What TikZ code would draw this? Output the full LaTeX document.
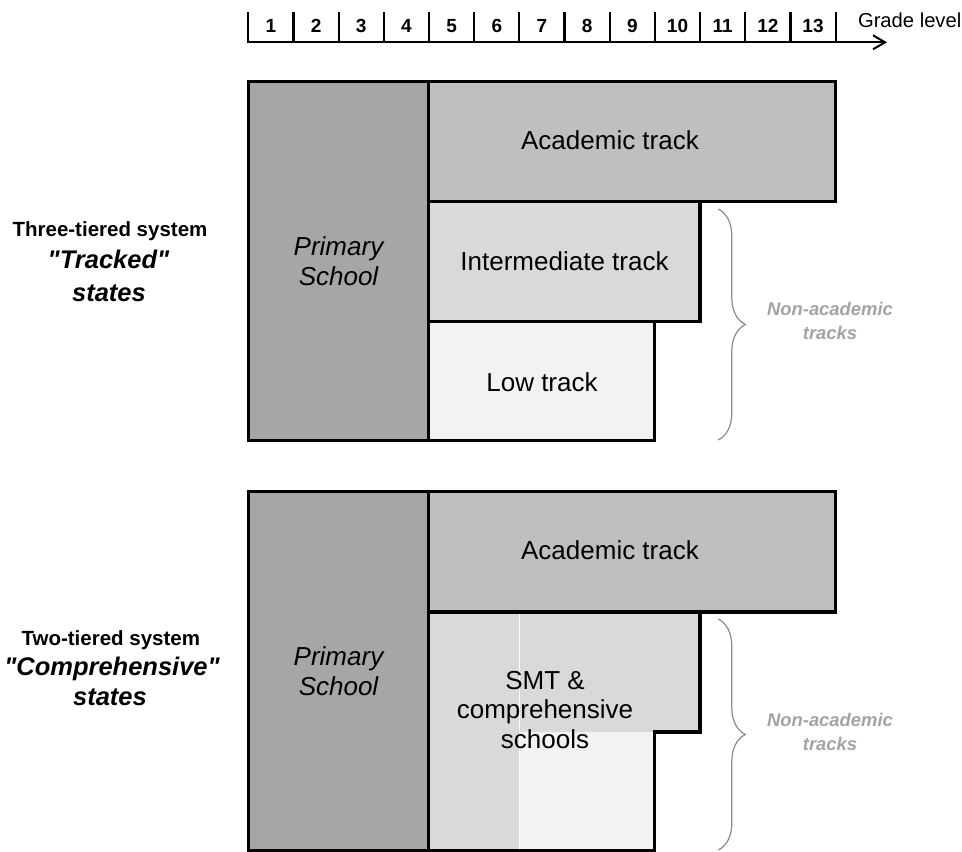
\documentclass[tikz,border=0pt]{standalone}
\usepackage{fontspec}
\setmainfont{Liberation Sans}[Ligatures=TeXOff]
\usetikzlibrary{arrows.meta,decorations.pathreplacing}
\definecolor{primgray}{HTML}{A6A6A6}
\definecolor{acadgray}{HTML}{BFBFBF}
\definecolor{midgray}{HTML}{D9D9D9}
\definecolor{lowgray}{HTML}{F2F2F2}
\definecolor{bracegray}{HTML}{8A8A8A}
\definecolor{notegray}{HTML}{A3A3A3}
\newcommand{\sq}{\symbol{34}}
\begin{document}
\begin{tikzpicture}[x=1pt, y=-1pt,
    box/.style={draw=black, line width=3.5pt},
    boxlabel/.style={font=\fontsize{26}{30}\selectfont, align=center},
    tierlabel/.style={font=\bfseries\fontsize{20.5}{24}\selectfont, anchor=base},
    statelabel/.style={font=\bfseries\itshape\fontsize{25.5}{30}\selectfont, anchor=base},
    notelabel/.style={font=\bfseries\itshape\fontsize{18.4}{24}\selectfont, text=notegray, align=center},
    nonacad/.style={decorate, decoration={brace, amplitude=27pt}, draw=bracegray, line width=1.2pt}]
    \useasboundingbox (0,0) rectangle (962,852);
    \foreach \g in {0,...,13}{
        \pgfmathsetmacro{\tx}{248.3+45.18*\g}
        \draw[line width=2.2pt] (\tx,12) -- (\tx,42.3);
    }
    \foreach \g in {1,...,13}{
        \pgfmathsetmacro{\cx}{248.3+45.18*(\g-0.5)}
        \node[font=\bfseries\fontsize{19}{20}\selectfont] (grade\g) at (\cx,26.3) {\g};
    }
    \coordinate (axis start) at (247.3,42.3);
    \coordinate (axis end) at (887,42.3);
    \draw[line width=2pt, -{Straight Barb[length=12pt, width=14pt]}] (axis start) -- (axis end);
    \node[font=\fontsize{20.2}{24}\selectfont, anchor=base west] (grade level) at (854.5,27) {Grade level};

    \draw[box, fill=primgray] (248.3,81.5) rectangle (428.7,440.7);
    \draw[box, fill=acadgray] (428.7,81.5) rectangle (835.3,201.5);
    \draw[box, fill=midgray] (428.7,201.5) rectangle (699.8,321.5);
    \draw[box, fill=lowgray] (428.7,321.5) rectangle (654.6,440.7);
    \node[boxlabel, font=\itshape\fontsize{26}{30}\selectfont] (primary top) at (338.5,261) {Primary\\School};
    \node[boxlabel] (academic top) at (610,140.5) {Academic track};
    \node[boxlabel] (intermediate) at (564.5,261) {Intermediate track};
    \node[boxlabel] (low) at (542,382) {Low track};

    \draw[box, fill=primgray] (248.3,491.7) rectangle (428.7,850.5);
    \draw[box, fill=acadgray] (428.7,491.7) rectangle (835.3,612);
    \fill[midgray] (428.7,612) rectangle (699.8,732);
    \fill[midgray] (428.7,732) rectangle (519.4,850.5);
    \fill[lowgray] (519.4,732) rectangle (654.6,850.5);
    \draw[white, line width=1.5pt] (519.4,612) -- (519.4,850.5);
    \draw[box] (428.7,612) -- (699.8,612) -- (699.8,732) -- (654.6,732) -- (654.6,850.5) -- (428.7,850.5) -- cycle;
    \node[boxlabel, font=\itshape\fontsize{26}{30}\selectfont] (primary bottom) at (338.5,671) {Primary\\School};
    \node[boxlabel] (academic bottom) at (610,550.5) {Academic track};
    \node[boxlabel, font=\fontsize{26}{29.3}\selectfont] (smt) at (545,710) {SMT \&\\comprehensive\\schools};

    \node[tierlabel] (three tier) at (110,236) {Three-tiered system};
    \node[statelabel] (tracked) at (108.5,268.3) {\sq Tracked\sq};
    \node[statelabel] (tracked states) at (109,301.7) {states};
    \node[tierlabel] (two tier) at (110.8,645) {Two-tiered system};
    \node[statelabel] (comprehensive) at (112,675) {\sq Comprehensive\sq};
    \node[statelabel] (comprehensive states) at (110,705) {states};

    \coordinate (brace top a) at (718.3,209);
    \coordinate (brace top b) at (718.3,440);
    \coordinate (brace bottom a) at (718.3,619);
    \coordinate (brace bottom b) at (718.3,850);
    \draw[nonacad] (brace top a) -- (brace top b);
    \draw[nonacad] (brace bottom a) -- (brace bottom b);
    \node[notelabel] (note top) at (830,321) {Non-academic\\tracks};
    \node[notelabel] (note bottom) at (830,731.5) {Non-academic\\tracks};
\end{tikzpicture}
\end{document}
